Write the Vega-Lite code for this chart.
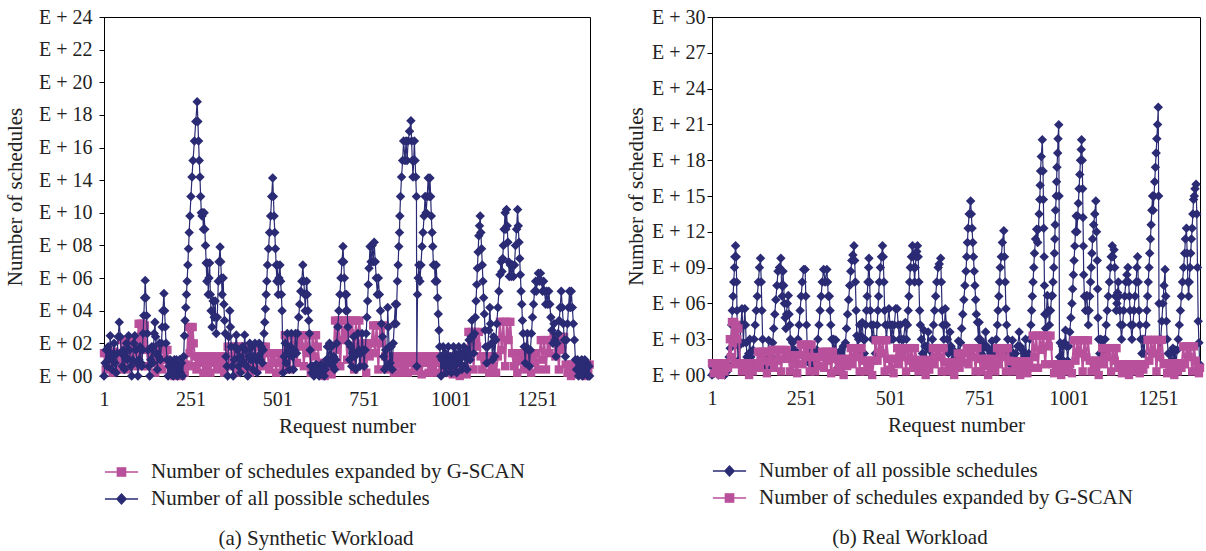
{
"$schema":"https://vega.github.io/schema/vega-lite/v6.json",
"padding":{"left":4,"top":6,"right":6,"bottom":0},
"spacing":30,
"config":{
"font":"Liberation Serif",
"view":{"stroke":"#000","strokeWidth":1},
"axis":{"labelFont":"Liberation Serif","titleFont":"Liberation Serif","labelFontSize":20,"titleFontSize":21,"titleFontWeight":"normal","labelColor":"#222","titleColor":"#222","domainColor":"#000","tickColor":"#000","grid":false,"labelFlush":false,"labelOverlap":false},
"legend":{"orient":"bottom","direction":"vertical","labelFont":"Liberation Serif","labelFontSize":21,"labelColor":"#222","symbolSize":1100,"symbolOpacity":1,"symbolStrokeWidth":1.4,"rowPadding":6,"clipHeight":20,"labelOffset":12,"offset":26,"labelLimit":600},
"title":{"font":"Liberation Serif","fontSize":21,"fontWeight":"normal","color":"#222","orient":"bottom","anchor":"middle","offset":19}
},
"resolve":{"scale":{"shape":"independent","fill":"independent","stroke":"independent"}},
"datasets":{
"a_all":[{"x":1,"y":0},{"x":4,"y":0.4},{"x":7,"y":0.8},{"x":10,"y":0.3},{"x":13,"y":0.9},{"x":16,"y":0.5},{"x":19,"y":1.23},{"x":21,"y":0.7},{"x":24,"y":0.2},{"x":27,"y":0.6},{"x":30,"y":1.0},{"x":33,"y":0.4},{"x":36,"y":0.1},{"x":39,"y":0.7},{"x":42,"y":1.2},{"x":45,"y":1.65},{"x":48,"y":1.2},{"x":51,"y":0.7},{"x":54,"y":0.3},{"x":57,"y":0.8},{"x":60,"y":0.2},{"x":63,"y":0.6},{"x":66,"y":1.0},{"x":69,"y":0.5},{"x":72,"y":1.23},{"x":75,"y":0.8},{"x":78,"y":0.3},{"x":81,"y":0},{"x":84,"y":0.5},{"x":87,"y":1.0},{"x":90,"y":1.23},{"x":93,"y":0.8},{"x":96,"y":0.4},{"x":99,"y":0},{"x":102,"y":0.5},{"x":105,"y":0.9},{"x":108,"y":0.4},{"x":110,"y":0.3},{"x":112,"y":0.8},{"x":114,"y":1.3},{"x":116,"y":1.85},{"x":118,"y":2.4},{"x":120,"y":2.93},{"x":122,"y":2.4},{"x":124,"y":1.85},{"x":126,"y":1.3},{"x":128,"y":0.8},{"x":130,"y":0.3},{"x":133,"y":0},{"x":136,"y":0.5},{"x":139,"y":0.9},{"x":142,"y":0.4},{"x":144,"y":0.9},{"x":146,"y":1.3},{"x":148,"y":1.65},{"x":150,"y":1.2},{"x":152,"y":0.7},{"x":155,"y":0.2},{"x":158,"y":0.6},{"x":161,"y":1.0},{"x":164,"y":0.5},{"x":167,"y":1.0},{"x":169,"y":1.5},{"x":171,"y":2.0},{"x":174,"y":2.53},{"x":176,"y":2.0},{"x":178,"y":1.5},{"x":180,"y":1.0},{"x":183,"y":0.5},{"x":186,"y":0},{"x":189,"y":0.3},{"x":192,"y":0.5},{"x":195,"y":0.1},{"x":198,"y":0.4},{"x":201,"y":0},{"x":204,"y":0.5},{"x":207,"y":0.2},{"x":210,"y":0.5},{"x":213,"y":0},{"x":216,"y":0.3},{"x":219,"y":0.5},{"x":222,"y":0.1},{"x":225,"y":0.4},{"x":228,"y":0},{"x":231,"y":0.6},{"x":233,"y":1.23},{"x":235,"y":1.7},{"x":237,"y":2.1},{"x":239,"y":2.5},{"x":241,"y":2.9},{"x":243,"y":3.4},{"x":245,"y":3.9},{"x":247,"y":4.4},{"x":249,"y":4.9},{"x":252,"y":5.5},{"x":255,"y":6.1},{"x":258,"y":6.6},{"x":262,"y":7.2},{"x":266,"y":7.8},{"x":270,"y":8.4},{"x":272,"y":7.8},{"x":274,"y":7.2},{"x":276,"y":6.6},{"x":278,"y":6.1},{"x":280,"y":5.5},{"x":282,"y":5.0},{"x":284,"y":4.9},{"x":286,"y":5.0},{"x":288,"y":4.5},{"x":290,"y":5.0},{"x":292,"y":4.5},{"x":294,"y":4.0},{"x":296,"y":3.46},{"x":298,"y":2.9},{"x":300,"y":3.46},{"x":302,"y":2.5},{"x":304,"y":3.0},{"x":306,"y":3.46},{"x":308,"y":2.5},{"x":310,"y":2.0},{"x":313,"y":1.5},{"x":316,"y":2.3},{"x":319,"y":1.8},{"x":322,"y":2.3},{"x":325,"y":1.3},{"x":328,"y":1.8},{"x":331,"y":2.9},{"x":333,"y":3.5},{"x":336,"y":3.95},{"x":338,"y":3.5},{"x":340,"y":3.0},{"x":342,"y":2.5},{"x":345,"y":3.0},{"x":347,"y":2.2},{"x":349,"y":1.7},{"x":351,"y":1.3},{"x":353,"y":0.6},{"x":356,"y":0.3},{"x":358,"y":0},{"x":361,"y":1.2},{"x":364,"y":2.0},{"x":366,"y":1.5},{"x":368,"y":0.9},{"x":371,"y":0.3},{"x":374,"y":0},{"x":377,"y":0.5},{"x":380,"y":0.9},{"x":383,"y":1.26},{"x":386,"y":0.8},{"x":389,"y":0.3},{"x":392,"y":0.6},{"x":395,"y":0.1},{"x":398,"y":0.5},{"x":401,"y":0.9},{"x":404,"y":0.4},{"x":407,"y":1.26},{"x":410,"y":0.8},{"x":413,"y":0.3},{"x":416,"y":0},{"x":419,"y":0.6},{"x":422,"y":1.0},{"x":425,"y":0.5},{"x":428,"y":0.9},{"x":431,"y":0.2},{"x":434,"y":0.6},{"x":437,"y":1.0},{"x":440,"y":0.5},{"x":443,"y":0.1},{"x":446,"y":0.6},{"x":449,"y":1.0},{"x":452,"y":0.5},{"x":455,"y":0.9},{"x":458,"y":0.4},{"x":461,"y":0.8},{"x":463,"y":1.3},{"x":465,"y":1.65},{"x":467,"y":2.05},{"x":469,"y":2.5},{"x":471,"y":2.9},{"x":473,"y":3.4},{"x":476,"y":3.9},{"x":479,"y":4.4},{"x":482,"y":4.9},{"x":485,"y":5.5},{"x":488,"y":6.07},{"x":490,"y":5.5},{"x":492,"y":4.9},{"x":494,"y":4.4},{"x":496,"y":3.9},{"x":498,"y":3.4},{"x":500,"y":2.9},{"x":502,"y":3.4},{"x":504,"y":2.5},{"x":506,"y":3.0},{"x":509,"y":3.4},{"x":511,"y":2.9},{"x":513,"y":2.5},{"x":515,"y":2.0},{"x":518,"y":0.1},{"x":521,"y":0.6},{"x":524,"y":1.0},{"x":527,"y":0.4},{"x":530,"y":1.3},{"x":533,"y":0.7},{"x":536,"y":0.2},{"x":539,"y":0.9},{"x":542,"y":1.3},{"x":545,"y":0.6},{"x":548,"y":0.2},{"x":551,"y":0.8},{"x":554,"y":1.3},{"x":557,"y":0.7},{"x":560,"y":1.3},{"x":563,"y":1.8},{"x":566,"y":2.2},{"x":569,"y":2.6},{"x":572,"y":2.9},{"x":575,"y":3.4},{"x":578,"y":2.9},{"x":580,"y":2.5},{"x":582,"y":2.0},{"x":584,"y":2.5},{"x":586,"y":2.9},{"x":588,"y":2.5},{"x":590,"y":2.0},{"x":592,"y":1.7},{"x":594,"y":1.3},{"x":596,"y":0.8},{"x":598,"y":0.3},{"x":601,"y":0.1},{"x":604,"y":0.3},{"x":607,"y":0},{"x":610,"y":0.2},{"x":613,"y":0.35},{"x":616,"y":0.1},{"x":619,"y":0.3},{"x":622,"y":0},{"x":625,"y":0.2},{"x":628,"y":0.35},{"x":631,"y":0.1},{"x":634,"y":0.3},{"x":637,"y":0},{"x":640,"y":0.2},{"x":643,"y":0.5},{"x":646,"y":0.9},{"x":649,"y":0.4},{"x":652,"y":1.0},{"x":655,"y":0.5},{"x":658,"y":0.9},{"x":661,"y":0.3},{"x":664,"y":0.6},{"x":667,"y":0.2},{"x":670,"y":0.5},{"x":673,"y":1.0},{"x":676,"y":1.5},{"x":679,"y":2.0},{"x":682,"y":2.5},{"x":685,"y":3.0},{"x":688,"y":3.5},{"x":691,"y":3.97},{"x":693,"y":3.5},{"x":695,"y":3.0},{"x":697,"y":2.5},{"x":699,"y":2.0},{"x":701,"y":2.5},{"x":703,"y":2.0},{"x":705,"y":1.5},{"x":707,"y":1.0},{"x":710,"y":0.5},{"x":713,"y":0.9},{"x":716,"y":0.3},{"x":719,"y":0.7},{"x":722,"y":1.2},{"x":725,"y":0.6},{"x":728,"y":0.2},{"x":731,"y":0.7},{"x":734,"y":1.3},{"x":737,"y":0.8},{"x":740,"y":0.3},{"x":743,"y":0.7},{"x":746,"y":1.3},{"x":749,"y":0.8},{"x":752,"y":0.3},{"x":755,"y":0.8},{"x":758,"y":1.3},{"x":760,"y":1.8},{"x":762,"y":2.3},{"x":764,"y":2.8},{"x":766,"y":3.3},{"x":769,"y":3.97},{"x":772,"y":3.5},{"x":775,"y":4.0},{"x":778,"y":3.5},{"x":781,"y":4.1},{"x":784,"y":3.5},{"x":787,"y":3.0},{"x":790,"y":2.5},{"x":793,"y":3.0},{"x":796,"y":2.5},{"x":799,"y":2.0},{"x":802,"y":1.6},{"x":805,"y":1.2},{"x":808,"y":0.6},{"x":811,"y":0.2},{"x":814,"y":0.8},{"x":817,"y":0.3},{"x":820,"y":2.1},{"x":822,"y":1.5},{"x":824,"y":0.9},{"x":827,"y":0.4},{"x":830,"y":0.9},{"x":833,"y":0.2},{"x":836,"y":1.0},{"x":839,"y":1.6},{"x":842,"y":2.2},{"x":844,"y":1.6},{"x":846,"y":2.2},{"x":848,"y":2.9},{"x":850,"y":3.4},{"x":852,"y":3.97},{"x":854,"y":4.4},{"x":855,"y":4.9},{"x":857,"y":5.5},{"x":860,"y":6.1},{"x":863,"y":6.6},{"x":866,"y":7.2},{"x":870,"y":6.6},{"x":873,"y":7.2},{"x":876,"y":6.6},{"x":879,"y":7.2},{"x":883,"y":7.5},{"x":887,"y":7.82},{"x":889,"y":7.2},{"x":891,"y":6.6},{"x":893,"y":6.1},{"x":895,"y":6.6},{"x":897,"y":7.2},{"x":899,"y":6.6},{"x":901,"y":6.1},{"x":903,"y":5.5},{"x":904,"y":0.3},{"x":906,"y":2.5},{"x":908,"y":3.0},{"x":910,"y":3.4},{"x":913,"y":2.9},{"x":916,"y":3.4},{"x":919,"y":3.97},{"x":922,"y":4.4},{"x":925,"y":4.9},{"x":928,"y":5.5},{"x":931,"y":5.0},{"x":934,"y":5.5},{"x":937,"y":6.07},{"x":940,"y":5.5},{"x":942,"y":6.07},{"x":944,"y":5.5},{"x":946,"y":4.9},{"x":948,"y":4.4},{"x":950,"y":3.97},{"x":952,"y":3.4},{"x":955,"y":3.4},{"x":957,"y":2.9},{"x":960,"y":3.4},{"x":962,"y":2.9},{"x":964,"y":2.4},{"x":966,"y":1.9},{"x":968,"y":1.4},{"x":970,"y":0.9},{"x":972,"y":0.6},{"x":974,"y":0},{"x":977,"y":0.5},{"x":980,"y":0.9},{"x":983,"y":0.3},{"x":986,"y":0.7},{"x":989,"y":0.1},{"x":992,"y":0.5},{"x":995,"y":0.9},{"x":998,"y":0.3},{"x":1001,"y":0.6},{"x":1004,"y":0.1},{"x":1007,"y":0.5},{"x":1010,"y":0.9},{"x":1013,"y":0.3},{"x":1016,"y":0.7},{"x":1019,"y":0.1},{"x":1022,"y":0.5},{"x":1025,"y":0.9},{"x":1028,"y":0.4},{"x":1031,"y":0.7},{"x":1034,"y":0.2},{"x":1037,"y":0.6},{"x":1040,"y":0.9},{"x":1043,"y":0.3},{"x":1046,"y":0.8},{"x":1049,"y":0.2},{"x":1052,"y":0.6},{"x":1055,"y":1.1},{"x":1058,"y":0.5},{"x":1061,"y":1.2},{"x":1063,"y":1.7},{"x":1065,"y":1.2},{"x":1068,"y":0.7},{"x":1071,"y":1.3},{"x":1073,"y":1.8},{"x":1075,"y":2.3},{"x":1077,"y":2.8},{"x":1079,"y":3.3},{"x":1081,"y":3.8},{"x":1083,"y":4.3},{"x":1085,"y":4.6},{"x":1087,"y":4.9},{"x":1089,"y":4.4},{"x":1091,"y":3.9},{"x":1093,"y":3.4},{"x":1095,"y":2.9},{"x":1097,"y":2.4},{"x":1099,"y":1.9},{"x":1101,"y":1.4},{"x":1103,"y":0.9},{"x":1106,"y":0.4},{"x":1109,"y":0.9},{"x":1112,"y":1.4},{"x":1115,"y":2.1},{"x":1117,"y":1.6},{"x":1120,"y":1.0},{"x":1123,"y":0.5},{"x":1126,"y":1.2},{"x":1129,"y":0.6},{"x":1132,"y":1.1},{"x":1135,"y":1.6},{"x":1138,"y":2.1},{"x":1141,"y":2.6},{"x":1144,"y":3.1},{"x":1147,"y":3.5},{"x":1150,"y":3.2},{"x":1152,"y":3.6},{"x":1154,"y":4.0},{"x":1156,"y":4.5},{"x":1159,"y":5.0},{"x":1161,"y":4.5},{"x":1163,"y":5.1},{"x":1165,"y":4.6},{"x":1167,"y":4.1},{"x":1169,"y":3.5},{"x":1171,"y":3.05},{"x":1174,"y":3.4},{"x":1177,"y":3.05},{"x":1180,"y":3.4},{"x":1183,"y":3.05},{"x":1186,"y":3.4},{"x":1189,"y":4.0},{"x":1192,"y":4.5},{"x":1195,"y":5.1},{"x":1197,"y":4.6},{"x":1199,"y":4.1},{"x":1201,"y":3.6},{"x":1203,"y":3.1},{"x":1205,"y":2.6},{"x":1207,"y":2.2},{"x":1209,"y":1.7},{"x":1211,"y":1.3},{"x":1214,"y":0.9},{"x":1217,"y":0.4},{"x":1220,"y":0.9},{"x":1223,"y":1.3},{"x":1226,"y":0.8},{"x":1229,"y":0.3},{"x":1232,"y":0.8},{"x":1235,"y":1.3},{"x":1238,"y":1.8},{"x":1241,"y":2.2},{"x":1244,"y":2.6},{"x":1247,"y":2.9},{"x":1249,"y":2.6},{"x":1252,"y":2.9},{"x":1255,"y":3.15},{"x":1258,"y":2.9},{"x":1261,"y":3.15},{"x":1264,"y":2.9},{"x":1267,"y":2.6},{"x":1270,"y":2.9},{"x":1273,"y":2.6},{"x":1276,"y":2.2},{"x":1279,"y":2.6},{"x":1282,"y":2.2},{"x":1285,"y":2.6},{"x":1288,"y":2.2},{"x":1291,"y":1.8},{"x":1294,"y":1.4},{"x":1297,"y":1.0},{"x":1300,"y":1.6},{"x":1303,"y":1.1},{"x":1306,"y":0.6},{"x":1309,"y":1.0},{"x":1312,"y":1.3},{"x":1315,"y":1.7},{"x":1318,"y":2.1},{"x":1321,"y":2.6},{"x":1324,"y":2.1},{"x":1327,"y":1.6},{"x":1330,"y":1.1},{"x":1333,"y":0.6},{"x":1336,"y":1.1},{"x":1339,"y":1.6},{"x":1342,"y":2.1},{"x":1345,"y":2.6},{"x":1347,"y":2.1},{"x":1350,"y":2.6},{"x":1353,"y":2.1},{"x":1356,"y":1.6},{"x":1359,"y":1.1},{"x":1362,"y":0.5},{"x":1365,"y":0.2},{"x":1368,"y":0.5},{"x":1371,"y":0},{"x":1374,"y":0.4},{"x":1377,"y":0.1},{"x":1380,"y":0.5},{"x":1383,"y":0},{"x":1386,"y":0.3},{"x":1389,"y":0.5},{"x":1392,"y":0.1},{"x":1395,"y":0.4},{"x":1398,"y":0},{"x":1401,"y":0.3},{"x":1403,"y":0}],
"a_gs":[{"x":1,"y":0.7},{"x":6,"y":0.2},{"x":11,"y":0.7},{"x":16,"y":0.45},{"x":21,"y":0.7},{"x":26,"y":0.1},{"x":31,"y":0.75},{"x":36,"y":0.4},{"x":41,"y":0.7},{"x":46,"y":0.2},{"x":51,"y":1.1},{"x":56,"y":0.5},{"x":61,"y":1.1},{"x":66,"y":0.2},{"x":71,"y":1.05},{"x":76,"y":0.6},{"x":81,"y":1.1},{"x":86,"y":0.3},{"x":91,"y":1.1},{"x":96,"y":0.7},{"x":101,"y":1.6},{"x":104,"y":0.8},{"x":107,"y":1.6},{"x":110,"y":0.3},{"x":113,"y":1.6},{"x":116,"y":1.0},{"x":119,"y":1.55},{"x":124,"y":0.8},{"x":129,"y":0.3},{"x":134,"y":0.8},{"x":139,"y":0.5},{"x":144,"y":0.8},{"x":149,"y":0.1},{"x":154,"y":0.8},{"x":159,"y":0.4},{"x":164,"y":0.8},{"x":169,"y":0.2},{"x":174,"y":0.8},{"x":179,"y":0.5},{"x":184,"y":0.8},{"x":189,"y":0.35},{"x":194,"y":0.1},{"x":199,"y":0.35},{"x":204,"y":0},{"x":209,"y":0.35},{"x":214,"y":0.15},{"x":219,"y":0.35},{"x":224,"y":0},{"x":229,"y":0.35},{"x":234,"y":0.1},{"x":239,"y":0.35},{"x":245,"y":1.5},{"x":248,"y":0.7},{"x":251,"y":1.5},{"x":254,"y":0.3},{"x":257,"y":1.5},{"x":260,"y":1.0},{"x":263,"y":0.6},{"x":268,"y":0.2},{"x":273,"y":0.6},{"x":278,"y":0.4},{"x":283,"y":0.6},{"x":288,"y":0.1},{"x":293,"y":0.6},{"x":298,"y":0.3},{"x":303,"y":0.6},{"x":308,"y":0.1},{"x":313,"y":0.6},{"x":318,"y":0.4},{"x":323,"y":0.6},{"x":328,"y":0.2},{"x":333,"y":0.6},{"x":338,"y":0.35},{"x":343,"y":0.6},{"x":348,"y":0.1},{"x":353,"y":0.6},{"x":358,"y":0.9},{"x":363,"y":0.3},{"x":368,"y":0.9},{"x":373,"y":0.5},{"x":378,"y":0.9},{"x":383,"y":0.1},{"x":388,"y":0.9},{"x":393,"y":0.6},{"x":398,"y":0.9},{"x":403,"y":0.2},{"x":408,"y":0.9},{"x":413,"y":0.5},{"x":418,"y":0.9},{"x":423,"y":0.1},{"x":428,"y":0.9},{"x":433,"y":0.4},{"x":438,"y":0.9},{"x":443,"y":0.2},{"x":448,"y":0.9},{"x":453,"y":0.6},{"x":458,"y":0.9},{"x":463,"y":0.3},{"x":468,"y":0.9},{"x":473,"y":0.7},{"x":478,"y":0.2},{"x":483,"y":0.7},{"x":488,"y":0.4},{"x":493,"y":0.7},{"x":498,"y":0.1},{"x":503,"y":0.7},{"x":508,"y":0.4},{"x":513,"y":0.7},{"x":518,"y":0.2},{"x":523,"y":1.25},{"x":528,"y":0.6},{"x":533,"y":1.25},{"x":538,"y":0.2},{"x":543,"y":1.25},{"x":548,"y":0.8},{"x":553,"y":1.25},{"x":558,"y":0.4},{"x":563,"y":1.25},{"x":568,"y":0.9},{"x":573,"y":1.25},{"x":578,"y":0.3},{"x":583,"y":1.25},{"x":588,"y":0.7},{"x":593,"y":1.25},{"x":598,"y":0.1},{"x":603,"y":1.25},{"x":608,"y":0.6},{"x":613,"y":1.25},{"x":618,"y":0.9},{"x":623,"y":0.4},{"x":628,"y":0.1},{"x":633,"y":0.4},{"x":638,"y":0},{"x":643,"y":0.4},{"x":648,"y":0.2},{"x":653,"y":0.4},{"x":658,"y":0.05},{"x":663,"y":0.4},{"x":668,"y":1.7},{"x":673,"y":0.8},{"x":678,"y":1.7},{"x":683,"y":0.3},{"x":688,"y":1.7},{"x":693,"y":1.1},{"x":698,"y":1.7},{"x":703,"y":0.5},{"x":708,"y":1.7},{"x":713,"y":1.3},{"x":718,"y":1.7},{"x":723,"y":0.2},{"x":728,"y":1.7},{"x":733,"y":0.9},{"x":738,"y":1.7},{"x":743,"y":1.0},{"x":748,"y":0.4},{"x":753,"y":1.0},{"x":758,"y":0.1},{"x":763,"y":1.0},{"x":768,"y":0.6},{"x":773,"y":1.0},{"x":778,"y":1.55},{"x":783,"y":0.7},{"x":788,"y":1.55},{"x":793,"y":0.2},{"x":798,"y":1.55},{"x":803,"y":1.0},{"x":808,"y":1.55},{"x":813,"y":0.6},{"x":818,"y":0.2},{"x":823,"y":0.6},{"x":828,"y":0.4},{"x":833,"y":0.6},{"x":838,"y":0.1},{"x":843,"y":0.6},{"x":848,"y":0.35},{"x":853,"y":0.6},{"x":858,"y":0.1},{"x":863,"y":0.6},{"x":868,"y":0.3},{"x":873,"y":0.6},{"x":878,"y":0.1},{"x":883,"y":0.6},{"x":888,"y":0.4},{"x":893,"y":0.6},{"x":898,"y":0.15},{"x":903,"y":0.6},{"x":908,"y":0.3},{"x":913,"y":0.6},{"x":918,"y":0.05},{"x":923,"y":0.6},{"x":928,"y":0.4},{"x":933,"y":0.6},{"x":938,"y":0.1},{"x":943,"y":0.6},{"x":948,"y":0.3},{"x":953,"y":0.6},{"x":958,"y":0.1},{"x":963,"y":0.6},{"x":968,"y":0.4},{"x":973,"y":0.6},{"x":978,"y":0.2},{"x":983,"y":0.6},{"x":988,"y":0.35},{"x":993,"y":0.6},{"x":998,"y":0.1},{"x":1003,"y":0.3},{"x":1008,"y":0.05},{"x":1013,"y":0.3},{"x":1018,"y":0.15},{"x":1023,"y":0.3},{"x":1028,"y":0},{"x":1033,"y":0.3},{"x":1038,"y":0.1},{"x":1043,"y":0.3},{"x":1048,"y":0.05},{"x":1053,"y":1.35},{"x":1058,"y":0.6},{"x":1063,"y":1.35},{"x":1068,"y":0.2},{"x":1073,"y":1.35},{"x":1078,"y":0.9},{"x":1083,"y":1.35},{"x":1088,"y":0.6},{"x":1093,"y":0.2},{"x":1098,"y":0.6},{"x":1103,"y":0.4},{"x":1108,"y":0.6},{"x":1113,"y":0.1},{"x":1118,"y":0.6},{"x":1123,"y":0.3},{"x":1128,"y":0.6},{"x":1133,"y":0.1},{"x":1138,"y":0.6},{"x":1144,"y":1.66},{"x":1149,"y":0.8},{"x":1154,"y":1.66},{"x":1159,"y":0.3},{"x":1164,"y":1.66},{"x":1169,"y":1.1},{"x":1174,"y":1.66},{"x":1179,"y":0.7},{"x":1184,"y":0.3},{"x":1189,"y":0.7},{"x":1194,"y":0.1},{"x":1199,"y":0.7},{"x":1204,"y":0.45},{"x":1209,"y":0.7},{"x":1214,"y":0.2},{"x":1219,"y":0.7},{"x":1224,"y":0.5},{"x":1229,"y":0.7},{"x":1234,"y":0.1},{"x":1239,"y":0.7},{"x":1244,"y":0.4},{"x":1249,"y":0.7},{"x":1254,"y":0.2},{"x":1262,"y":1.1},{"x":1267,"y":0.5},{"x":1272,"y":1.1},{"x":1277,"y":0.2},{"x":1282,"y":1.1},{"x":1287,"y":0.7},{"x":1292,"y":1.1},{"x":1299,"y":1.2},{"x":1304,"y":0.6},{"x":1309,"y":1.2},{"x":1314,"y":0.2},{"x":1319,"y":1.2},{"x":1324,"y":0.8},{"x":1329,"y":1.2},{"x":1334,"y":0.35},{"x":1339,"y":0.1},{"x":1344,"y":0.35},{"x":1349,"y":0},{"x":1354,"y":0.35},{"x":1359,"y":0.15},{"x":1364,"y":0.35},{"x":1369,"y":0.05},{"x":1374,"y":0.35},{"x":1379,"y":0.1},{"x":1384,"y":0.35},{"x":1389,"y":0},{"x":1394,"y":0.35},{"x":1399,"y":0.1},{"x":1403,"y":0.35}],
"b_all":[{"x":1,"y":0},{"x":4,"y":0.2},{"x":7,"y":0.05},{"x":10,"y":0.3},{"x":13,"y":0.1},{"x":16,"y":0.25},{"x":19,"y":0},{"x":22,"y":0.2},{"x":25,"y":0.05},{"x":28,"y":0.3},{"x":31,"y":0.1},{"x":34,"y":0.2},{"x":37,"y":0},{"x":40,"y":0.25},{"x":43,"y":0.1},{"x":46,"y":0.3},{"x":49,"y":0.5},{"x":52,"y":0.75},{"x":54,"y":1.0},{"x":56,"y":1.4},{"x":58,"y":1.8},{"x":60,"y":2.2},{"x":62,"y":2.6},{"x":64,"y":3.0},{"x":65,"y":3.3},{"x":67,"y":3.61},{"x":69,"y":3.3},{"x":70,"y":2.6},{"x":71,"y":1.8},{"x":72,"y":1.0},{"x":74,"y":0.4},{"x":76,"y":0.8},{"x":78,"y":0.3},{"x":80,"y":0.9},{"x":82,"y":1.4},{"x":85,"y":1.85},{"x":87,"y":1.4},{"x":89,"y":0.9},{"x":91,"y":1.4},{"x":93,"y":1.85},{"x":95,"y":1.4},{"x":97,"y":0.9},{"x":99,"y":0.5},{"x":101,"y":0.2},{"x":104,"y":0.6},{"x":107,"y":1.0},{"x":110,"y":0.5},{"x":113,"y":0.2},{"x":116,"y":0.7},{"x":119,"y":1.0},{"x":122,"y":1.4},{"x":125,"y":1.8},{"x":128,"y":2.2},{"x":131,"y":2.6},{"x":134,"y":3.0},{"x":137,"y":3.26},{"x":139,"y":2.6},{"x":141,"y":1.8},{"x":143,"y":1.0},{"x":145,"y":0.5},{"x":148,"y":0.2},{"x":151,"y":0.6},{"x":154,"y":0.2},{"x":157,"y":0.6},{"x":160,"y":0.97},{"x":162,"y":0.6},{"x":165,"y":0.2},{"x":168,"y":0.5},{"x":171,"y":0.9},{"x":174,"y":1.3},{"x":177,"y":1.7},{"x":180,"y":2.1},{"x":183,"y":2.5},{"x":186,"y":2.9},{"x":190,"y":3.0},{"x":194,"y":3.26},{"x":196,"y":2.5},{"x":198,"y":2.2},{"x":200,"y":2.9},{"x":202,"y":2.5},{"x":204,"y":2.0},{"x":206,"y":1.6},{"x":208,"y":1.3},{"x":210,"y":1.7},{"x":212,"y":2.0},{"x":215,"y":2.22},{"x":217,"y":1.7},{"x":219,"y":1.4},{"x":221,"y":1.0},{"x":224,"y":0.6},{"x":227,"y":0.9},{"x":230,"y":0.4},{"x":233,"y":0.7},{"x":236,"y":0.3},{"x":239,"y":0.6},{"x":242,"y":1.0},{"x":245,"y":1.4},{"x":248,"y":1.8},{"x":251,"y":2.2},{"x":254,"y":2.6},{"x":258,"y":2.95},{"x":262,"y":2.95},{"x":264,"y":2.2},{"x":266,"y":1.4},{"x":268,"y":0.8},{"x":271,"y":0.4},{"x":274,"y":0.7},{"x":277,"y":0.3},{"x":280,"y":0.75},{"x":283,"y":0.4},{"x":286,"y":0.2},{"x":289,"y":0.6},{"x":292,"y":0.3},{"x":295,"y":0.7},{"x":298,"y":1.0},{"x":301,"y":1.4},{"x":304,"y":1.8},{"x":307,"y":2.2},{"x":310,"y":2.6},{"x":314,"y":2.95},{"x":318,"y":2.6},{"x":323,"y":2.95},{"x":325,"y":2.6},{"x":327,"y":2.2},{"x":330,"y":2.2},{"x":332,"y":1.8},{"x":334,"y":1.4},{"x":337,"y":1.0},{"x":340,"y":0.6},{"x":342,"y":1.0},{"x":345,"y":0.6},{"x":348,"y":0.98},{"x":351,"y":0.5},{"x":354,"y":0.2},{"x":357,"y":0.6},{"x":360,"y":0.3},{"x":363,"y":0.7},{"x":366,"y":0.3},{"x":369,"y":0.8},{"x":372,"y":0.4},{"x":375,"y":0.9},{"x":378,"y":1.3},{"x":381,"y":1.7},{"x":384,"y":2.1},{"x":387,"y":2.5},{"x":390,"y":2.9},{"x":393,"y":3.2},{"x":396,"y":3.35},{"x":399,"y":3.61},{"x":401,"y":3.2},{"x":403,"y":2.6},{"x":405,"y":1.8},{"x":407,"y":1.1},{"x":409,"y":0.6},{"x":412,"y":1.0},{"x":415,"y":1.4},{"x":418,"y":1.1},{"x":422,"y":1.47},{"x":425,"y":1.0},{"x":428,"y":0.6},{"x":430,"y":1.0},{"x":432,"y":1.4},{"x":434,"y":1.8},{"x":436,"y":2.2},{"x":438,"y":2.6},{"x":440,"y":3.0},{"x":441,"y":3.26},{"x":443,"y":2.6},{"x":445,"y":1.8},{"x":447,"y":1.4},{"x":450,"y":1.0},{"x":453,"y":1.4},{"x":456,"y":1.0},{"x":459,"y":0.6},{"x":462,"y":1.0},{"x":464,"y":1.4},{"x":466,"y":1.8},{"x":468,"y":2.2},{"x":470,"y":2.6},{"x":473,"y":3.0},{"x":476,"y":3.3},{"x":479,"y":3.61},{"x":481,"y":3.3},{"x":483,"y":2.6},{"x":485,"y":1.8},{"x":487,"y":1.4},{"x":490,"y":1.0},{"x":493,"y":1.4},{"x":497,"y":1.85},{"x":500,"y":1.4},{"x":503,"y":1.0},{"x":506,"y":1.4},{"x":509,"y":1.0},{"x":512,"y":1.4},{"x":516,"y":1.85},{"x":520,"y":1.85},{"x":523,"y":1.4},{"x":526,"y":1.0},{"x":529,"y":1.4},{"x":532,"y":1.0},{"x":535,"y":0.6},{"x":538,"y":1.0},{"x":543,"y":1.47},{"x":546,"y":1.0},{"x":549,"y":1.4},{"x":551,"y":1.8},{"x":553,"y":2.2},{"x":555,"y":2.6},{"x":557,"y":3.0},{"x":560,"y":3.3},{"x":563,"y":3.61},{"x":565,"y":3.3},{"x":567,"y":3.0},{"x":569,"y":2.6},{"x":571,"y":3.0},{"x":573,"y":3.3},{"x":575,"y":3.45},{"x":577,"y":3.61},{"x":579,"y":3.3},{"x":581,"y":2.6},{"x":583,"y":1.8},{"x":585,"y":1.4},{"x":588,"y":1.0},{"x":591,"y":0.6},{"x":595,"y":1.25},{"x":598,"y":0.8},{"x":601,"y":0.4},{"x":604,"y":0.8},{"x":607,"y":1.2},{"x":610,"y":0.7},{"x":613,"y":0.3},{"x":616,"y":0.7},{"x":619,"y":1.0},{"x":622,"y":1.4},{"x":625,"y":1.8},{"x":628,"y":2.2},{"x":631,"y":2.6},{"x":635,"y":3.0},{"x":638,"y":3.1},{"x":642,"y":3.26},{"x":644,"y":2.6},{"x":646,"y":1.8},{"x":648,"y":1.4},{"x":651,"y":1.0},{"x":655,"y":1.85},{"x":658,"y":1.4},{"x":661,"y":1.0},{"x":664,"y":0.6},{"x":668,"y":1.2},{"x":671,"y":0.8},{"x":674,"y":0.4},{"x":677,"y":0.7},{"x":680,"y":0.3},{"x":683,"y":0.6},{"x":686,"y":0.3},{"x":689,"y":0.6},{"x":692,"y":0.95},{"x":695,"y":0.5},{"x":698,"y":0.9},{"x":701,"y":1.3},{"x":704,"y":1.7},{"x":707,"y":2.1},{"x":710,"y":2.5},{"x":713,"y":2.9},{"x":715,"y":3.3},{"x":717,"y":3.7},{"x":719,"y":4.1},{"x":722,"y":4.5},{"x":726,"y":4.86},{"x":728,"y":4.5},{"x":730,"y":4.1},{"x":732,"y":3.7},{"x":734,"y":3.3},{"x":736,"y":2.9},{"x":738,"y":2.5},{"x":740,"y":2.1},{"x":742,"y":1.7},{"x":745,"y":1.47},{"x":748,"y":1.0},{"x":750,"y":1.47},{"x":753,"y":1.0},{"x":756,"y":0.6},{"x":759,"y":0.9},{"x":762,"y":0.5},{"x":765,"y":0.8},{"x":768,"y":1.2},{"x":771,"y":0.8},{"x":774,"y":0.4},{"x":777,"y":0.7},{"x":780,"y":0.3},{"x":783,"y":0.6},{"x":786,"y":0.95},{"x":789,"y":0.5},{"x":792,"y":0.2},{"x":795,"y":0.6},{"x":798,"y":1.0},{"x":801,"y":1.4},{"x":803,"y":1.8},{"x":805,"y":2.2},{"x":807,"y":2.6},{"x":809,"y":3.0},{"x":812,"y":3.3},{"x":815,"y":3.7},{"x":819,"y":4.03},{"x":821,"y":3.3},{"x":823,"y":2.6},{"x":825,"y":1.85},{"x":827,"y":1.4},{"x":830,"y":1.0},{"x":833,"y":0.6},{"x":836,"y":0.3},{"x":840,"y":0.6},{"x":843,"y":0.97},{"x":846,"y":0.6},{"x":849,"y":0.3},{"x":852,"y":0.6},{"x":855,"y":0.3},{"x":858,"y":0.8},{"x":862,"y":1.2},{"x":865,"y":0.8},{"x":868,"y":0.4},{"x":871,"y":0.7},{"x":874,"y":0.3},{"x":877,"y":0.6},{"x":880,"y":1.0},{"x":883,"y":0.5},{"x":886,"y":0.2},{"x":889,"y":0.6},{"x":892,"y":1.0},{"x":895,"y":1.4},{"x":897,"y":1.8},{"x":899,"y":2.2},{"x":901,"y":2.6},{"x":903,"y":3.0},{"x":905,"y":3.4},{"x":908,"y":3.8},{"x":911,"y":4.07},{"x":914,"y":3.7},{"x":916,"y":4.07},{"x":918,"y":4.5},{"x":920,"y":4.9},{"x":921,"y":5.3},{"x":922,"y":5.7},{"x":924,"y":6.1},{"x":927,"y":6.57},{"x":929,"y":5.7},{"x":930,"y":4.9},{"x":931,"y":4.1},{"x":932,"y":3.3},{"x":933,"y":2.5},{"x":934,"y":1.7},{"x":936,"y":1.3},{"x":938,"y":1.7},{"x":941,"y":2.22},{"x":944,"y":1.8},{"x":947,"y":1.4},{"x":950,"y":1.8},{"x":953,"y":2.2},{"x":955,"y":2.22},{"x":957,"y":2.6},{"x":959,"y":3.0},{"x":961,"y":3.4},{"x":962,"y":3.8},{"x":963,"y":4.2},{"x":964,"y":4.6},{"x":966,"y":5.0},{"x":967,"y":5.4},{"x":968,"y":5.8},{"x":970,"y":6.2},{"x":971,"y":6.6},{"x":973,"y":6.99},{"x":974,"y":5.0},{"x":975,"y":0.5},{"x":977,"y":0.9},{"x":980,"y":0.4},{"x":983,"y":0.8},{"x":986,"y":0.4},{"x":989,"y":0.9},{"x":992,"y":1.25},{"x":995,"y":0.8},{"x":998,"y":0.4},{"x":1001,"y":0.8},{"x":1004,"y":1.2},{"x":1007,"y":1.6},{"x":1010,"y":2.0},{"x":1012,"y":2.4},{"x":1014,"y":2.8},{"x":1016,"y":3.2},{"x":1018,"y":3.6},{"x":1020,"y":4.0},{"x":1022,"y":4.44},{"x":1024,"y":4.0},{"x":1026,"y":4.44},{"x":1028,"y":4.8},{"x":1030,"y":5.2},{"x":1032,"y":5.6},{"x":1034,"y":6.0},{"x":1036,"y":6.3},{"x":1037,"y":6.57},{"x":1039,"y":6.0},{"x":1040,"y":5.2},{"x":1041,"y":4.4},{"x":1042,"y":3.6},{"x":1043,"y":2.8},{"x":1045,"y":2.2},{"x":1048,"y":1.8},{"x":1050,"y":2.2},{"x":1052,"y":2.22},{"x":1054,"y":1.8},{"x":1056,"y":1.4},{"x":1058,"y":1.8},{"x":1060,"y":2.2},{"x":1062,"y":2.6},{"x":1064,"y":3.0},{"x":1066,"y":3.4},{"x":1068,"y":3.8},{"x":1071,"y":4.2},{"x":1074,"y":4.5},{"x":1077,"y":4.86},{"x":1079,"y":4.0},{"x":1081,"y":3.2},{"x":1082,"y":2.4},{"x":1083,"y":1.6},{"x":1085,"y":1.0},{"x":1088,"y":0.6},{"x":1091,"y":1.0},{"x":1094,"y":0.6},{"x":1097,"y":0.97},{"x":1100,"y":0.6},{"x":1103,"y":1.0},{"x":1106,"y":1.4},{"x":1109,"y":1.8},{"x":1112,"y":2.2},{"x":1115,"y":2.6},{"x":1118,"y":3.0},{"x":1120,"y":3.3},{"x":1123,"y":3.61},{"x":1125,"y":3.3},{"x":1128,"y":3.5},{"x":1130,"y":3.0},{"x":1132,"y":2.2},{"x":1134,"y":1.8},{"x":1136,"y":2.0},{"x":1138,"y":2.3},{"x":1140,"y":2.6},{"x":1142,"y":2.2},{"x":1144,"y":1.8},{"x":1146,"y":1.4},{"x":1149,"y":1.0},{"x":1152,"y":1.4},{"x":1155,"y":1.8},{"x":1158,"y":2.2},{"x":1161,"y":2.6},{"x":1164,"y":2.8},{"x":1167,"y":3.0},{"x":1169,"y":2.6},{"x":1171,"y":2.2},{"x":1173,"y":1.8},{"x":1175,"y":1.4},{"x":1178,"y":1.0},{"x":1181,"y":1.4},{"x":1184,"y":1.8},{"x":1187,"y":2.2},{"x":1190,"y":2.6},{"x":1192,"y":3.0},{"x":1194,"y":3.3},{"x":1196,"y":2.6},{"x":1198,"y":1.8},{"x":1200,"y":1.4},{"x":1203,"y":1.0},{"x":1206,"y":0.6},{"x":1209,"y":1.0},{"x":1212,"y":0.6},{"x":1215,"y":1.0},{"x":1218,"y":1.4},{"x":1220,"y":1.8},{"x":1222,"y":2.2},{"x":1224,"y":2.6},{"x":1226,"y":3.0},{"x":1228,"y":3.4},{"x":1230,"y":3.8},{"x":1232,"y":4.2},{"x":1234,"y":4.6},{"x":1236,"y":5.0},{"x":1238,"y":4.6},{"x":1240,"y":5.0},{"x":1242,"y":5.4},{"x":1244,"y":5.8},{"x":1246,"y":6.2},{"x":1248,"y":6.6},{"x":1250,"y":7.0},{"x":1252,"y":7.48},{"x":1253,"y":5.0},{"x":1254,"y":2.0},{"x":1256,"y":0.5},{"x":1259,"y":1.0},{"x":1262,"y":1.5},{"x":1265,"y":2.0},{"x":1268,"y":2.5},{"x":1271,"y":2.95},{"x":1273,"y":2.2},{"x":1275,"y":1.5},{"x":1277,"y":1.0},{"x":1280,"y":0.6},{"x":1283,"y":0.3},{"x":1286,"y":0.6},{"x":1289,"y":0.3},{"x":1293,"y":0.75},{"x":1296,"y":0.4},{"x":1299,"y":0.7},{"x":1302,"y":0.3},{"x":1305,"y":0.7},{"x":1308,"y":1.0},{"x":1311,"y":1.4},{"x":1314,"y":1.8},{"x":1317,"y":2.2},{"x":1320,"y":2.6},{"x":1323,"y":3.0},{"x":1326,"y":3.4},{"x":1328,"y":3.8},{"x":1331,"y":4.1},{"x":1333,"y":3.4},{"x":1335,"y":2.6},{"x":1337,"y":2.2},{"x":1339,"y":2.6},{"x":1341,"y":3.0},{"x":1343,"y":3.4},{"x":1345,"y":3.8},{"x":1347,"y":4.1},{"x":1349,"y":4.5},{"x":1351,"y":4.9},{"x":1353,"y":5.0},{"x":1355,"y":5.2},{"x":1358,"y":5.33},{"x":1360,"y":4.5},{"x":1362,"y":3.0},{"x":1364,"y":1.5},{"x":1366,"y":0.9},{"x":1368,"y":0.3}],
"b_gs":[{"x":1,"y":0.33},{"x":6,"y":0.05},{"x":11,"y":0.33},{"x":16,"y":0.15},{"x":21,"y":0.33},{"x":26,"y":0},{"x":31,"y":0.33},{"x":36,"y":0.1},{"x":41,"y":0.33},{"x":46,"y":0.2},{"x":51,"y":1.0},{"x":54,"y":0.5},{"x":57,"y":1.48},{"x":60,"y":0.9},{"x":63,"y":1.48},{"x":66,"y":0.3},{"x":69,"y":1.4},{"x":72,"y":1.0},{"x":75,"y":1.3},{"x":80,"y":0.33},{"x":85,"y":0.1},{"x":90,"y":0.33},{"x":95,"y":0.15},{"x":100,"y":0.33},{"x":105,"y":0},{"x":110,"y":0.33},{"x":115,"y":0.1},{"x":120,"y":0.33},{"x":125,"y":0.2},{"x":130,"y":0.65},{"x":135,"y":0.2},{"x":140,"y":0.65},{"x":145,"y":0.4},{"x":150,"y":0.65},{"x":155,"y":0.05},{"x":160,"y":0.65},{"x":166,"y":0.37},{"x":170,"y":0.7},{"x":175,"y":0.2},{"x":180,"y":0.7},{"x":185,"y":0.4},{"x":190,"y":0.7},{"x":195,"y":0.1},{"x":200,"y":0.7},{"x":205,"y":0.45},{"x":210,"y":0.7},{"x":215,"y":0.55},{"x":220,"y":0.1},{"x":225,"y":0.55},{"x":230,"y":0.3},{"x":235,"y":0.55},{"x":240,"y":0.05},{"x":245,"y":0.55},{"x":250,"y":0.85},{"x":255,"y":0.3},{"x":260,"y":0.85},{"x":265,"y":0.5},{"x":270,"y":0.85},{"x":275,"y":0.1},{"x":280,"y":0.85},{"x":285,"y":0.5},{"x":290,"y":0.1},{"x":295,"y":0.5},{"x":300,"y":0.25},{"x":305,"y":0.5},{"x":310,"y":0.65},{"x":315,"y":0.2},{"x":320,"y":0.65},{"x":325,"y":0.4},{"x":330,"y":0.65},{"x":335,"y":0.05},{"x":340,"y":0.65},{"x":345,"y":0.45},{"x":350,"y":0.1},{"x":355,"y":0.45},{"x":360,"y":0.2},{"x":365,"y":0.45},{"x":370,"y":0},{"x":375,"y":0.45},{"x":380,"y":0.25},{"x":385,"y":0.45},{"x":390,"y":0.75},{"x":395,"y":0.3},{"x":400,"y":0.75},{"x":405,"y":0.5},{"x":410,"y":0.75},{"x":415,"y":0.1},{"x":420,"y":0.75},{"x":425,"y":0.4},{"x":430,"y":0.1},{"x":435,"y":0.4},{"x":440,"y":0.2},{"x":445,"y":0.4},{"x":450,"y":0},{"x":455,"y":0.4},{"x":460,"y":0.97},{"x":465,"y":0.4},{"x":470,"y":0.97},{"x":475,"y":0.6},{"x":480,"y":0.97},{"x":485,"y":0.1},{"x":490,"y":0.97},{"x":495,"y":0.45},{"x":500,"y":0.15},{"x":505,"y":0.45},{"x":510,"y":0.05},{"x":515,"y":0.45},{"x":520,"y":0.75},{"x":525,"y":0.3},{"x":530,"y":0.75},{"x":535,"y":0.5},{"x":540,"y":0.75},{"x":545,"y":0.1},{"x":550,"y":0.75},{"x":555,"y":0.4},{"x":560,"y":0.75},{"x":565,"y":0.2},{"x":570,"y":0.75},{"x":575,"y":0.42},{"x":580,"y":0.1},{"x":585,"y":0.42},{"x":590,"y":0.2},{"x":595,"y":0.42},{"x":600,"y":0},{"x":605,"y":0.42},{"x":610,"y":0.15},{"x":615,"y":0.42},{"x":620,"y":0.75},{"x":625,"y":0.3},{"x":630,"y":0.75},{"x":635,"y":0.5},{"x":640,"y":0.75},{"x":645,"y":0.1},{"x":650,"y":0.75},{"x":655,"y":0.35},{"x":660,"y":0.1},{"x":665,"y":0.35},{"x":670,"y":0.2},{"x":675,"y":0.35},{"x":680,"y":0},{"x":685,"y":0.35},{"x":690,"y":0.6},{"x":695,"y":0.2},{"x":700,"y":0.6},{"x":705,"y":0.35},{"x":710,"y":0.6},{"x":715,"y":0.75},{"x":720,"y":0.3},{"x":725,"y":0.75},{"x":730,"y":0.5},{"x":735,"y":0.75},{"x":740,"y":0.1},{"x":745,"y":0.75},{"x":750,"y":0.45},{"x":755,"y":0.1},{"x":760,"y":0.45},{"x":765,"y":0.25},{"x":770,"y":0.45},{"x":775,"y":0},{"x":780,"y":0.45},{"x":785,"y":0.2},{"x":790,"y":0.45},{"x":795,"y":0.1},{"x":800,"y":0.75},{"x":805,"y":0.3},{"x":810,"y":0.75},{"x":815,"y":0.5},{"x":820,"y":0.75},{"x":825,"y":0.1},{"x":830,"y":0.75},{"x":835,"y":0.4},{"x":840,"y":0.38},{"x":845,"y":0.1},{"x":850,"y":0.38},{"x":855,"y":0.2},{"x":860,"y":0.38},{"x":865,"y":0},{"x":870,"y":0.38},{"x":875,"y":0.15},{"x":880,"y":0.38},{"x":885,"y":0.05},{"x":890,"y":0.38},{"x":895,"y":0.2},{"x":900,"y":1.1},{"x":905,"y":0.5},{"x":910,"y":1.1},{"x":915,"y":0.2},{"x":920,"y":1.1},{"x":925,"y":0.7},{"x":930,"y":1.1},{"x":935,"y":0.3},{"x":940,"y":1.1},{"x":945,"y":0.8},{"x":950,"y":1.1},{"x":955,"y":0.3},{"x":960,"y":0.05},{"x":965,"y":0.3},{"x":970,"y":0.15},{"x":975,"y":0.3},{"x":980,"y":0},{"x":985,"y":0.3},{"x":990,"y":0.1},{"x":995,"y":0.3},{"x":1000,"y":0.2},{"x":1005,"y":0.3},{"x":1010,"y":0.05},{"x":1015,"y":0.97},{"x":1020,"y":0.4},{"x":1025,"y":0.97},{"x":1030,"y":0.6},{"x":1035,"y":0.97},{"x":1040,"y":0.1},{"x":1045,"y":0.97},{"x":1050,"y":0.5},{"x":1055,"y":0.97},{"x":1060,"y":0.4},{"x":1065,"y":0.1},{"x":1070,"y":0.4},{"x":1075,"y":0.2},{"x":1080,"y":0.4},{"x":1085,"y":0},{"x":1090,"y":0.4},{"x":1095,"y":0.75},{"x":1100,"y":0.3},{"x":1105,"y":0.75},{"x":1110,"y":0.5},{"x":1115,"y":0.75},{"x":1120,"y":0.1},{"x":1125,"y":0.75},{"x":1130,"y":0.4},{"x":1135,"y":0.75},{"x":1140,"y":0.2},{"x":1145,"y":0.3},{"x":1150,"y":0.05},{"x":1155,"y":0.3},{"x":1160,"y":0.15},{"x":1165,"y":0.3},{"x":1170,"y":0},{"x":1175,"y":0.3},{"x":1180,"y":0.1},{"x":1185,"y":0.3},{"x":1190,"y":0.2},{"x":1195,"y":0.3},{"x":1200,"y":0.05},{"x":1205,"y":0.3},{"x":1210,"y":0.15},{"x":1215,"y":0.3},{"x":1222,"y":0.98},{"x":1227,"y":0.4},{"x":1232,"y":0.98},{"x":1237,"y":0.6},{"x":1242,"y":0.98},{"x":1247,"y":0.1},{"x":1252,"y":0.98},{"x":1257,"y":0.5},{"x":1262,"y":0.98},{"x":1267,"y":0.3},{"x":1272,"y":0.33},{"x":1277,"y":0.05},{"x":1282,"y":0.33},{"x":1287,"y":0.15},{"x":1292,"y":0.33},{"x":1297,"y":0},{"x":1302,"y":0.33},{"x":1307,"y":0.1},{"x":1312,"y":0.33},{"x":1317,"y":0.2},{"x":1322,"y":0.8},{"x":1327,"y":0.3},{"x":1332,"y":0.8},{"x":1337,"y":0.5},{"x":1342,"y":0.8},{"x":1347,"y":0.1},{"x":1352,"y":0.8},{"x":1357,"y":0.4},{"x":1362,"y":0.2},{"x":1366,"y":0.05},{"x":1369,"y":0.2}]
},
"hconcat":[
{
"width":486,"height":359,
"title":{"text":"(a)  Synthetic Workload","dx":-31},
"encoding":{
"x":{"field":"x","type":"quantitative","scale":{"domain":[1,1404],"nice":false,"zero":false},"axis":{"values":[1,251,501,751,1001,1251],"format":"d","title":"Request number","ticks":false,"labelPadding":13,"titlePadding":6}},
"y":{"field":"y","type":"quantitative","scale":{"domain":[0,11],"nice":false},"axis":{"values":[0,1,2,3,4,5,6,7,8,9,10,11],"title":"Number of schedules","tickSize":5,"labelPadding":7,"titlePadding":13,"labelExpr":"['E + 00','E + 02','E + 04','E + 06','E + 08','E + 10','E + 14','E + 16','E + 18','E + 20','E + 22','E + 24'][datum.value]"}}
},
"layer":[
{"data":{"name":"a_gs"},"mark":{"type":"line","color":"#B9509C","strokeWidth":2}},
{"data":{"name":"a_gs"},"mark":{"type":"point","shape":"square","filled":true,"color":"#B9509C","size":70,"opacity":1}},
{"data":{"name":"a_all"},"mark":{"type":"line","color":"#2A2B74","strokeWidth":1.2}},
{"data":{"name":"a_all"},"mark":{"type":"point","shape":"diamond","filled":true,"color":"#2A2B74","size":90,"opacity":1}},
{"data":{"values":[{"series":"Number of schedules expanded by G-SCAN"},{"series":"Number of all possible schedules"}]},
"mark":{"type":"point","filled":true,"opacity":0,"strokeWidth":1.4},
"encoding":{"x":null,"y":null,
"shape":{"field":"series","type":"nominal","scale":{"domain":["Number of schedules expanded by G-SCAN","Number of all possible schedules"],"range":["M-1,0H1M-0.25,-0.25H0.25V0.25H-0.25Z","M-1,0H1M0,-0.3L0.28,0L0,0.3L-0.28,0Z"]},"legend":{"title":null}},
"fill":{"field":"series","type":"nominal","scale":{"domain":["Number of schedules expanded by G-SCAN","Number of all possible schedules"],"range":["#B9509C","#2A2B74"]},"legend":{"title":null}},
"stroke":{"field":"series","type":"nominal","scale":{"domain":["Number of schedules expanded by G-SCAN","Number of all possible schedules"],"range":["#B9509C","#2A2B74"]},"legend":{"title":null}}
}}
]
},
{
"width":488,"height":358,
"title":{"text":"(b)  Real Workload","dx":-46},
"encoding":{
"x":{"field":"x","type":"quantitative","scale":{"domain":[1,1369],"nice":false,"zero":false},"axis":{"values":[1,251,501,751,1001,1251],"format":"d","title":"Request number","ticks":false,"labelPadding":13,"titlePadding":6}},
"y":{"field":"y","type":"quantitative","scale":{"domain":[0,10],"nice":false},"axis":{"values":[0,1,2,3,4,5,6,7,8,9,10],"title":"Number of schedules","tickSize":5,"labelPadding":2,"titlePadding":5,"labelExpr":"['E + 00','E + 03','E + 06','E + 09','E + 12','E + 15','E + 18','E + 21','E + 24','E + 27','E + 30'][datum.value]"}}
},
"layer":[
{"data":{"name":"b_all"},"mark":{"type":"line","color":"#2A2B74","strokeWidth":1.2}},
{"data":{"name":"b_all"},"mark":{"type":"point","shape":"diamond","filled":true,"color":"#2A2B74","size":90,"opacity":1}},
{"data":{"name":"b_gs"},"mark":{"type":"line","color":"#B9509C","strokeWidth":2}},
{"data":{"name":"b_gs"},"mark":{"type":"point","shape":"square","filled":true,"color":"#B9509C","size":70,"opacity":1}},
{"data":{"values":[{"series":"Number of all possible schedules"},{"series":"Number of schedules expanded by G-SCAN"}]},
"mark":{"type":"point","filled":true,"opacity":0,"strokeWidth":1.4},
"encoding":{"x":null,"y":null,
"shape":{"field":"series","type":"nominal","scale":{"domain":["Number of all possible schedules","Number of schedules expanded by G-SCAN"],"range":["M-1,0H1M0,-0.3L0.28,0L0,0.3L-0.28,0Z","M-1,0H1M-0.25,-0.25H0.25V0.25H-0.25Z"]},"legend":{"title":null}},
"fill":{"field":"series","type":"nominal","scale":{"domain":["Number of all possible schedules","Number of schedules expanded by G-SCAN"],"range":["#2A2B74","#B9509C"]},"legend":{"title":null}},
"stroke":{"field":"series","type":"nominal","scale":{"domain":["Number of all possible schedules","Number of schedules expanded by G-SCAN"],"range":["#2A2B74","#B9509C"]},"legend":{"title":null}}
}}
]
}
]
}
